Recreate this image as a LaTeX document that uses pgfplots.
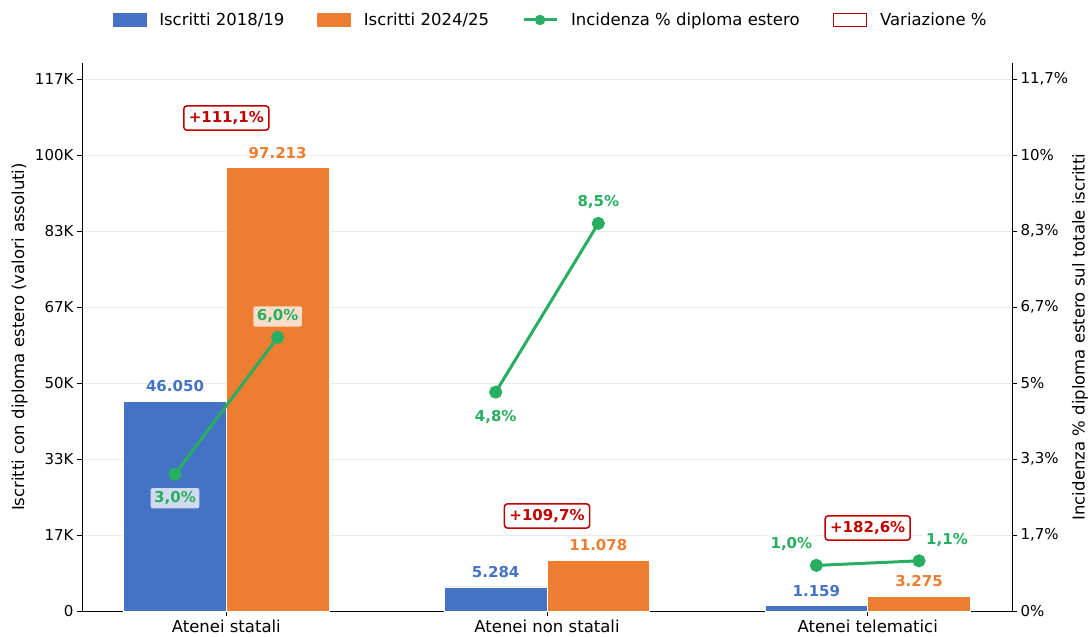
\documentclass[border=0pt]{standalone}
\usepackage{pgfplots}
\pgfplotsset{compat=1.18}
\usepackage{fontspec}
\setmainfont{DejaVu Sans}
\definecolor{cblue}{HTML}{4472C4}
\definecolor{corange}{HTML}{ED7D31}
\definecolor{cgreen}{HTML}{27AE60}
\definecolor{cred}{HTML}{C00000}
\definecolor{cgrid}{HTML}{EBEBEB}
\newcommand{\fs}[1]{\fontsize{#1}{#1}\selectfont}
\begin{document}
\begin{tikzpicture}[x=1pt,y=1pt]
\path[use as bounding box] (-82,-26) rectangle (1010,611);
\begin{axis}[
  at={(0,0)}, anchor=south west, scale only axis,
  width=930pt, height=548pt,
  xmin=-0.45, xmax=2.45, ymin=0, ymax=120180,
  axis x line*=bottom, axis y line*=left,
  xtick={0,1,2},
  xticklabels={Atenei statali, Atenei non statali, Atenei telematici},
  ytick={0,16666.67,33333.33,50000,66666.67,83333.33,100000,116666.67},
  yticklabels={0,17K,33K,50K,67K,83K,100K,117K},
  scaled y ticks=false,
  ymajorgrids, grid style={cgrid, line width=0.8pt},
  tick align=outside, major tick length=5pt,
  tick style={black, line width=0.8pt},
  axis line style={black, line width=0.8pt},
  yticklabel style={font=\fs{15}},
  xticklabel style={font=\fs{16.5}},
  ylabel={Iscritti con diploma estero (valori assoluti)},
  ylabel style={at={(axis description cs:-0.067,0.5)}, anchor=center, font=\fs{16.5}},
]
\addplot[ybar, bar width=0.32, bar shift=-0.16, fill=cblue, draw=white, line width=0.6pt]
  coordinates {(0,46050) (1,5284) (2,1159)};
\addplot[ybar, bar width=0.32, bar shift=0.16, fill=corange, draw=white, line width=0.6pt]
  coordinates {(0,97213) (1,11078) (2,3275)};
\begin{scope}[every node/.style={font=\bfseries\fs{15}, yshift=15pt}]
\node[text=cblue] at (axis cs:-0.16,46050) {46.050};
\node[text=corange] at (axis cs:0.16,97213) {97.213};
\node[text=cblue] at (axis cs:0.84,5284) {5.284};
\node[text=corange] at (axis cs:1.16,11078) {11.078};
\node[text=cblue] at (axis cs:1.84,1159) {1.159};
\node[text=corange] at (axis cs:2.16,3275) {3.275};
\end{scope}
\end{axis}
\begin{axis}[
  at={(0,0)}, anchor=south west, scale only axis,
  width=930pt, height=548pt,
  xmin=-0.45, xmax=2.45, ymin=0, ymax=12.018,
  axis x line=none, axis y line*=right,
  ytick={0,1.666667,3.333333,5,6.666667,8.333333,10,11.666667},
  yticklabels={0\%,{1,7\%},{3,3\%},5\%,{6,7\%},{8,3\%},10\%,{11,7\%}},
  tick align=outside, major tick length=5pt,
  tick style={black, line width=0.8pt},
  axis line style={black, line width=0.8pt},
  yticklabel style={font=\fs{15}},
  ylabel={Incidenza \% diploma estero sul totale iscritti},
  ylabel style={at={(axis description cs:1.0731,0.5)}, anchor=center, rotate=0, font=\fs{16.5}},
  legend style={at={(0.504,1.0785)}, anchor=center, draw=none, fill=none,
    font=\fs{16.5},
    /tikz/every odd column/.append style={column sep=11pt},
    /tikz/every even column/.append style={column sep=31pt}},
  legend columns=4, legend cell align=left,
  clip=false,
]
\addlegendimage{legend image code/.code={\fill[cblue] (0pt,-6.5pt) rectangle (33pt,6.5pt);}}
\addlegendimage{legend image code/.code={\fill[corange] (0pt,-6.5pt) rectangle (33pt,6.5pt);}}
\addlegendimage{legend image code/.code={\draw[cgreen, line width=3pt] (0pt,0pt) -- (33pt,0pt); \fill[cgreen] (16.5pt,0pt) circle (5pt);}}
\addlegendimage{legend image code/.code={\draw[cred, line width=1.5pt, fill=white] (0pt,-6.5pt) rectangle (33pt,6.5pt);}}
\addplot[cgreen, line width=3pt, mark=*, mark size=5pt] coordinates {(-0.16,3.0) (0.16,6.0)};
\addplot[cgreen, line width=3pt, mark=*, mark size=5pt] coordinates {(0.84,4.8) (1.16,8.5)};
\addplot[cgreen, line width=3pt, mark=*, mark size=5pt] coordinates {(1.84,1.0) (2.16,1.1)};
\legend{Iscritti 2018/19, Iscritti 2024/25, Incidenza \% diploma estero, Variazione \%}
\begin{scope}[every node/.style={font=\bfseries\fs{15}, text=cgreen, fill=white, fill opacity=0.75, text opacity=1, rounded corners=2pt, inner xsep=3.5pt, inner ysep=3.5pt}]
\node at ([yshift=-24pt]axis cs:-0.16,3.0) {3,0\%};
\node at ([yshift=21pt]axis cs:0.16,6.0) {6,0\%};
\node at ([yshift=-25pt]axis cs:0.84,4.8) {4,8\%};
\node at ([yshift=21pt]axis cs:1.16,8.5) {8,5\%};
\node at ([xshift=-25pt,yshift=21pt]axis cs:1.84,1.0) {1,0\%};
\node at ([xshift=28pt,yshift=21pt]axis cs:2.16,1.1) {1,1\%};
\end{scope}
\begin{scope}[every node/.style={font=\bfseries\fs{15}, text=cred, draw=cred, line width=1.5pt, fill=white, rounded corners=3pt, inner xsep=5pt, inner ysep=5.5pt}]
\node at (axis cs:0,10.81) {+111,1\%};
\node at (axis cs:1,2.084) {+109,7\%};
\node at (axis cs:2,1.82) {+182,6\%};
\end{scope}
\end{axis}
\end{tikzpicture}
\end{document}
